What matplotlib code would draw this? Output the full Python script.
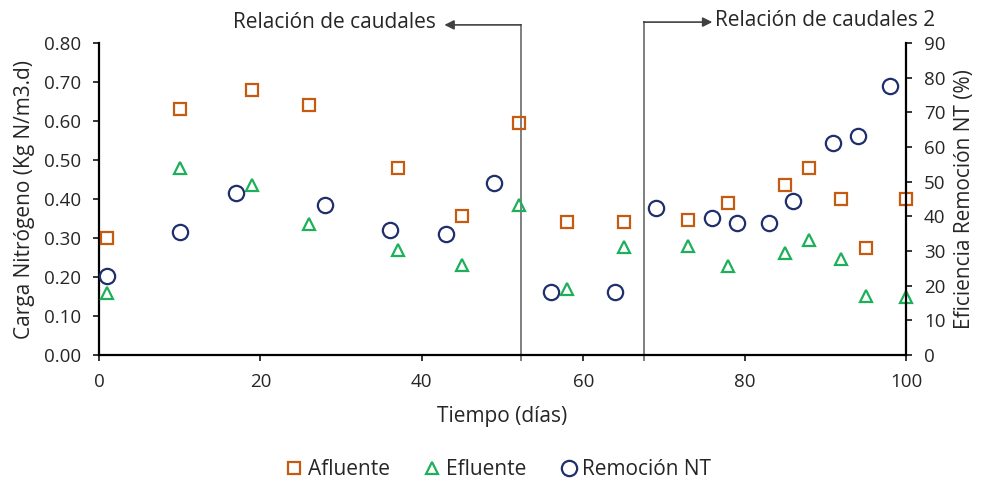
import numpy as np
import matplotlib.pyplot as plt
import matplotlib.transforms as mtransforms

plt.rcParams['font.family'] = ['Open Sans', 'DejaVu Sans']

# Afluente / Efluente (Kg N/m3.d)
dias_carga = [1, 10, 19, 26, 37, 45, 52, 58, 65, 73, 78, 85, 88, 92, 95, 100]
afluente = [0.30, 0.63, 0.68, 0.64, 0.48, 0.357, 0.595, 0.34, 0.34, 0.345, 0.39,
            0.436, 0.48, 0.40, 0.275, 0.40]
efluente = [0.16, 0.48, 0.435, 0.335, 0.27, 0.23, 0.385, 0.17, 0.277, 0.28, 0.227,
            0.262, 0.295, 0.247, 0.152, 0.15]

# Remocion NT (%)
dias_rem = [1, 10, 17, 28, 36, 43, 49, 56, 64, 69, 76, 79, 83, 86, 91, 94, 98]
remocion = [22.8, 35.5, 46.7, 43.3, 36.0, 35.0, 49.6, 18.2, 18.2, 42.4, 39.5, 38.0,
            38.0, 44.4, 61.2, 63.2, 77.6]

cortes = [52.3, 67.5]  # cambios de relacion de caudales

c_af = '#C55A11'
c_ef = '#1DAF5A'
c_rm = '#1F2F6B'
txt = '#262626'

fig = plt.figure(figsize=(9.88, 4.87), dpi=100)
ax = fig.add_axes([0.1002, 0.271, 0.8168, 0.6407])
ax2 = ax.twinx()

l1, = ax.plot(dias_carga, afluente, 's', ms=8.5, mfc='none', mec=c_af, mew=1.6,
              label='Afluente', clip_on=False, zorder=5)
l2, = ax.plot(dias_carga, efluente, '^', ms=8, mfc='none', mec=c_ef, mew=1.6,
              label='Efluente', clip_on=False, zorder=5)
l3, = ax2.plot(dias_rem, remocion, 'o', ms=11, mfc='none', mec=c_rm, mew=1.6,
               label='Remoción NT', clip_on=False, zorder=5)

ax.set_xlim(0, 100)
ax.set_ylim(0, 0.80)
ax2.set_ylim(0, 90)
ax.set_xticks([0, 20, 40, 60, 80, 100])
ax.set_yticks(np.arange(0, 0.81, 0.1))
ax.set_yticklabels([f'{v:.2f}' for v in np.arange(0, 0.81, 0.1)])
ax2.set_yticks(range(0, 91, 10))

for a in (ax, ax2):
    a.spines['top'].set_visible(False)
    for s in a.spines.values():
        s.set_linewidth(1.6)
        s.set_color('black')
    a.tick_params(labelsize=13.5, colors=txt, width=1.3, length=4, pad=9)
ax.spines['right'].set_visible(False)
ax2.spines['left'].set_visible(False)
ax2.spines['bottom'].set_visible(False)

ax.set_xlabel('Tiempo (días)', fontsize=15, color=txt, labelpad=11)
ax.set_ylabel('Carga Nitrógeno (Kg N/m3.d)', fontsize=15, color=txt, labelpad=6)
ax2.set_ylabel('Eficiencia Remoción NT (%)', fontsize=15, color=txt, labelpad=6)

# lineas verticales y flechas
trans = mtransforms.blended_transform_factory(ax.transData, ax.transAxes)
ax.plot([cortes[0], cortes[0]], [-0.015, 1.058], color='#7F7F7F', lw=1.4,
        transform=trans, clip_on=False, zorder=1)
ax.plot([cortes[1], cortes[1]], [-0.015, 1.067], color='#7F7F7F', lw=1.4,
        transform=trans, clip_on=False, zorder=1)
ax.annotate('', xy=(42.8, 1.058), xytext=(cortes[0], 1.058), xycoords=trans,
            textcoords=trans, annotation_clip=False,
            arrowprops=dict(arrowstyle='-|>', color='#404040', lw=1.2,
                            shrinkA=0, shrinkB=0, mutation_scale=14))
ax.annotate('', xy=(76.0, 1.067), xytext=(cortes[1], 1.067), xycoords=trans,
            textcoords=trans, annotation_clip=False,
            arrowprops=dict(arrowstyle='-|>', color='#404040', lw=1.2,
                            shrinkA=0, shrinkB=0, mutation_scale=14))
ax.text(41.8, 1.065, 'Relación de caudales', transform=trans, ha='right',
        va='center', fontsize=15, color=txt)
ax.text(76.3, 1.072, 'Relación de caudales 2', transform=trans, ha='left',
        va='center', fontsize=15, color=txt)

fig.legend(handles=[l1, l2, l3], loc='center', bbox_to_anchor=(0.503, 0.035),
           ncol=3, frameon=False, fontsize=15, handletextpad=0.1,
           columnspacing=1.5, handlelength=1.1, labelcolor=txt)

fig.savefig('out.png', dpi=100)
